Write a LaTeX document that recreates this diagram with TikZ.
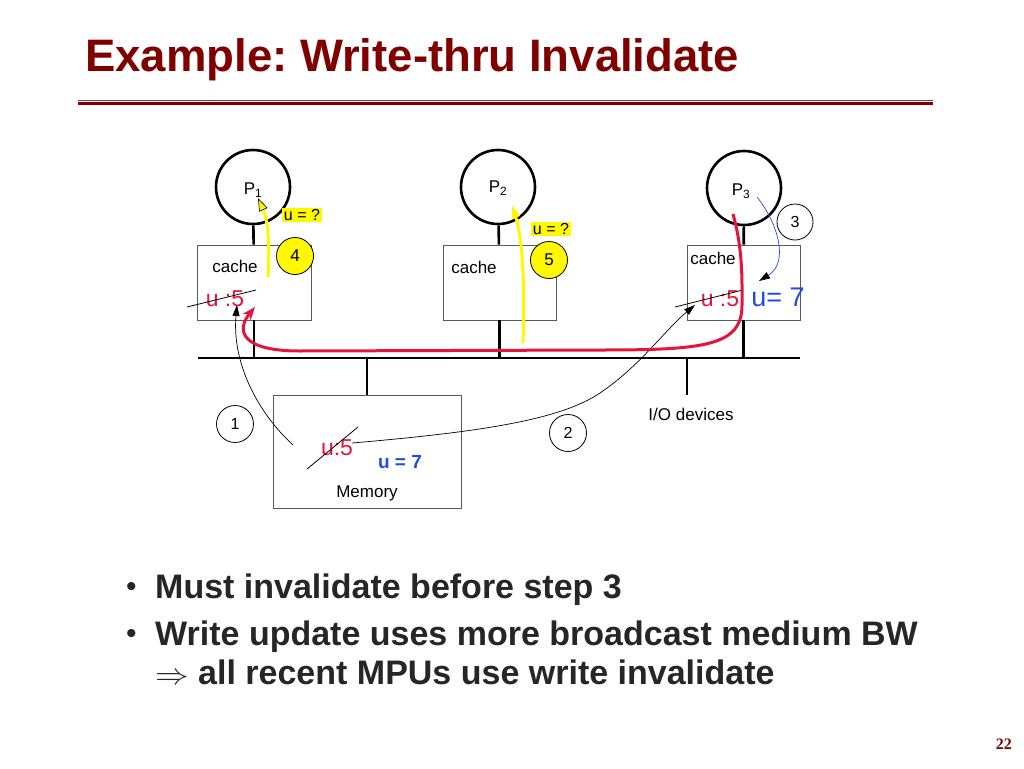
\documentclass[tikz,border=0pt]{standalone}
\usepackage{fontspec}
\setmainfont{Liberation Sans}
\newfontfamily\pagefont{Liberation Serif}
\usetikzlibrary{arrows.meta}
\frenchspacing

\definecolor{titlered}{RGB}{128,0,0}
\definecolor{valred}{RGB}{230,20,60}
\definecolor{valblue}{RGB}{35,75,225}
\definecolor{hilite}{RGB}{255,248,0}
\definecolor{bodygray}{RGB}{38,38,38}

\tikzset{
  proc/.style={circle, draw, line width=2.6pt, minimum size=74pt, inner sep=0pt},
  box/.style={draw=black!65, line width=0.9pt, inner sep=0pt},
  num/.style={circle, draw, line width=0.8pt, minimum size=37pt, inner sep=0pt,
    font=\fontsize{16}{19}\selectfont},
  ynum/.style={num, fill=hilite, font=\fontsize{17}{20}\selectfont},
  query/.style={fill=hilite, inner sep=1.5pt, font=\fontsize{16}{18}\selectfont},
  lbl/.style={inner sep=0pt, font=\fontsize{17}{20}\selectfont},
  oldval/.style={inner sep=0pt, text=valred, font=\fontsize{23}{26}\selectfont},
  wire/.style={line width=2.6pt},
  strike/.style={line width=0.8pt},
  msg/.style={line width=0.7pt, -{Triangle[length=11pt,width=7pt]}},
  yarrow/.style={hilite, line width=3pt,
    -{Triangle[length=13pt,width=9pt,fill=hilite,color=black,line width=0.6pt]}}
}

\begin{document}
\begin{tikzpicture}[x=1pt,y=-1pt]
    \useasboundingbox (0,0) rectangle (1024,768);

    % Title
    \node[anchor=base west, inner sep=0pt, text=titlered,
      font=\fontsize{45.5}{54}\selectfont\bfseries] (title) at (85,71)
      {Example: Write-thru Invalidate};
    \draw[titlered!80, line width=0.8pt] (78,100) -- (933,100);
    \draw[titlered, line width=3.2pt] (78,103.5) -- (933,103.5);

    % Nodes
    \node[proc] (p1) at (253,187) {};
    \node[proc] (p2) at (498,187) {};
    \node[proc] (p3) at (744,188) {};
    \node[lbl] at (253,190) {P\textsubscript{1}};
    \node[lbl] at (498,188) {P\textsubscript{2}};
    \node[lbl] at (741,191) {P\textsubscript{3}};

    \node[box, minimum width=114pt, minimum height=75pt] (c1) at (254,282.5) {};
    \node[box, minimum width=113pt, minimum height=75pt] (c2) at (499.5,282.5) {};
    \node[box, minimum width=113pt, minimum height=75pt] (c3) at (743.5,282.5) {};
    \node[box, minimum width=188pt, minimum height=113pt] (mem) at (367,451.5) {};

    \coordinate (busl) at (198,358);
    \coordinate (busr) at (800,358);
    \coordinate (io) at (687,395);

    \node[lbl] at (235,266) {cache};
    \node[lbl] at (474,267) {cache};
    \node[lbl] at (713,258) {cache};
    \node[lbl] at (367,493) {Memory};
    \node[lbl] at (691,414) {I/O devices};

    % Wires
    \draw[wire] (busl) -- (busr);
    \draw[wire] (p1) -- (c1);
    \draw[wire] (p2) -- (c2);
    \draw[wire] (p3) -- (c3);
    \draw[wire] (c1.south) -- (c1.south |- busl);
    \draw[wire] (c2.south) -- (c2.south |- busl);
    \draw[wire] (c3.south) -- (c3.south |- busl);
    \draw[wire] (mem.north) -- (mem.north |- busl);
    \draw[wire] (io) -- (io |- busl);

    % Values
    \node[oldval] (v1) at (225,299) {u :5};
    \node[oldval] (v3) at (720,299) {u :5};
    \node[oldval] (vm) at (337,448) {u:5};
    \node[inner sep=0pt, text=valblue, font=\fontsize{27}{30}\selectfont] (n3) at (778,297) {u= 7};
    \node[inner sep=0pt, text=valblue, font=\fontsize{19}{22}\selectfont\bfseries] (nm) at (400,462) {u = 7};
    \draw[strike] (187,307) -- (256,290);
    \draw[strike] (675,307) -- (743,290);
    \draw[strike] (307,469) -- (358,427);

    % Steps
    \node[num] (s1) at (235,424) {1};
    \node[num] (s2) at (568,433) {2};
    \node[num, minimum size=36pt] (s3) at (795,222) {3};
    \node[ynum] (s4) at (295,256) {4};
    \node[ynum] (s5) at (549,260) {5};
    \node[query] (q1) at (302,215) {u = ?};
    \node[query] (q2) at (551,229) {u = ?};

    % Edges
    \coordinate (m1) at (293,445);
    \coordinate (t1) at (237,305);
    \coordinate (m2) at (352,443);
    \coordinate (t2) at (695,305);
    \coordinate (w3) at (757,197);
    \coordinate (t3) at (759,281);
    \coordinate (r0) at (733,214);
    \coordinate (r1) at (255,307);
    \coordinate (y4a) at (268,277);
    \coordinate (y4b) at (258,198);
    \coordinate (y5a) at (523,343);
    \coordinate (y5b) at (512,205);

    \draw[msg] (m1) .. controls (255,410) and (232,360) .. (t1);
    \draw[msg] (m2) .. controls (480,432) and (560,420) .. (600,393)
      .. controls (640,366) and (665,330) .. (t2);
    \draw[valblue, line width=0.7pt, -{Triangle[length=11pt,width=7pt,color=black]}]
      (w3) .. controls (777,222) and (790,262) .. (t3);
    \draw[valred, line width=3pt, -{Stealth[length=13pt,width=10pt]}]
      (r0) .. controls (743,250) and (742,280) .. (742,305)
      .. controls (742,346) and (705,350) .. (600,350) -- (300,351)
      .. controls (240,351) and (236,330) .. (r1);
    \draw[yarrow] (y4a) .. controls (270,245) and (268,220) .. (y4b);
    \draw[yarrow, -{Triangle[length=13pt,width=8pt,fill=hilite,color=hilite]}]
      (y5a) .. controls (525,290) and (523,240) .. (y5b);

    % Bullets
    \begin{scope}[every node/.style={anchor=base west, inner sep=0pt, text=bodygray,
        font=\fontsize{34}{40}\selectfont\bfseries}]
      \node[font=\fontsize{30}{34}\selectfont] (b1) at (126,596) {\textbullet};
      \node (l1) at (155,598) {Must invalidate before step 3};
      \node[font=\fontsize{30}{34}\selectfont] (b2) at (126,643) {\textbullet};
      \node (l2) at (155,645) {Write update uses more broadcast medium BW};
      \node (l3) at (155,684) {\scalebox{1.35}[1.2]{$\Rightarrow$} all recent MPUs use write invalidate};
    \end{scope}

    % Page number
    \node[anchor=base east, inner sep=0pt, text=titlered,
      font=\pagefont\fontsize{16}{19}\selectfont\bfseries] (page) at (1012,749) {22};
\end{tikzpicture}
\end{document}
